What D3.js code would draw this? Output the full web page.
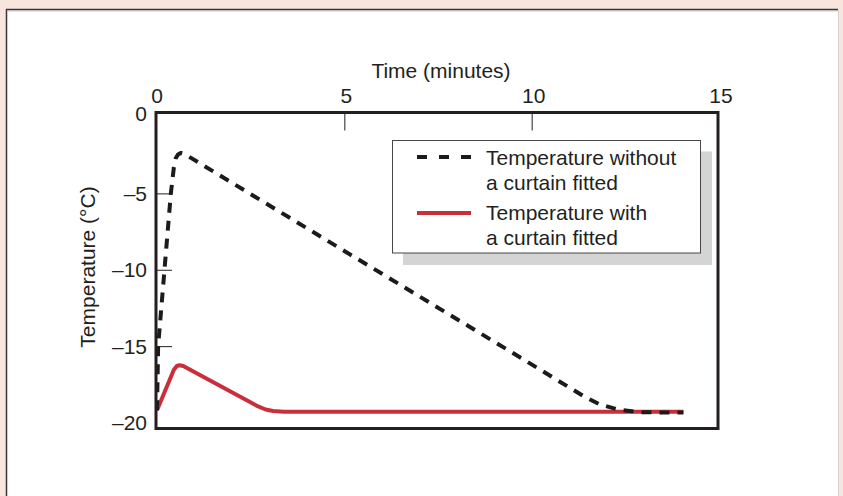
<!DOCTYPE html>
<html>
<head>
<meta charset="utf-8">
<script src="https://cdn.jsdelivr.net/npm/d3@7"></script>
<style>
  html, body { margin: 0; padding: 0; background: #f8e5de; }
  svg { display: block; }
  text { font-family: "Liberation Sans", Arial, sans-serif; fill: #231f20; }
</style>
</head>
<body>
<svg id="chart" width="843" height="496"></svg>
<script>
// ---- data ----
const xTicks = [0, 5, 10, 15];
const yTicks = [0, -5, -10, -15, -20];
const xTitle = "Time (minutes)";
const yTitle = "Temperature (°C)";
const seriesNames = ["Temperature without\na curtain fitted", "Temperature with\na curtain fitted"];

const withoutTime = [0, 0.03, 0.2, 0.37, 0.45, 0.5, 0.56, 0.64, 0.72, 5, 9.8, 11.4, 11.8, 12.3, 12.9, 14.05];
const withoutTemp = [-19.2, -15, -10, -5, -3.3, -2.7, -2.45, -2.35, -2.4, -8.77, -15.9, -18.3, -18.8, -19.15, -19.33, -19.35];

const withTime = [0, 0.45, 0.53, 0.6, 0.7, 2.7, 2.9, 3.1, 3.4, 14.05];
const withTemp = [-19.2, -16.55, -16.3, -16.25, -16.3, -18.95, -19.15, -19.25, -19.3, -19.3];

// ---- layout ----
const svg = d3.select("#chart");
const box = { left: 156, top: 112.5, right: 718, bottom: 428.5 };

// panel
svg.append("rect").attr("x", 6).attr("y", 9).attr("width", 832).attr("height", 500)
  .attr("fill", "#ffffff");
svg.append("line").attr("x1", 6.5).attr("x2", 6.5).attr("y1", 9).attr("y2", 496)
  .attr("stroke", "#3a3435").attr("stroke-width", 1.5);
svg.append("line").attr("x1", 6).attr("x2", 838).attr("y1", 9.5).attr("y2", 9.5)
  .attr("stroke", "#3a3435").attr("stroke-width", 1.5);
svg.append("line").attr("x1", 7).attr("x2", 838).attr("y1", 10.8).attr("y2", 10.8)
  .attr("stroke", "#b5b0b0").attr("stroke-width", 1);
svg.append("line").attr("x1", 838.5).attr("x2", 838.5).attr("y1", 10).attr("y2", 496)
  .attr("stroke", "#d8d0ce").attr("stroke-width", 1);

const x = d3.scaleLinear().domain([0, 15]).range([157, 719]);
const y = d3.scaleLinear().domain([-20, 0]).range([422.5, 117]);

// ticks (inside)
const xAxis = d3.axisBottom(x).tickValues(xTicks.slice(1, 3)).tickSize(18).tickFormat("");
svg.append("g").attr("transform", `translate(0,${box.top})`).call(xAxis)
  .call(g => g.select(".domain").remove())
  .call(g => g.selectAll("line").attr("stroke", "#231f20").attr("stroke-width", 1));
const yAxis = d3.axisRight(y).tickValues(yTicks.slice(1, 4)).tickSize(16).tickFormat("");
svg.append("g").attr("transform", `translate(${box.left},0)`).call(yAxis)
  .call(g => g.select(".domain").remove())
  .call(g => g.selectAll("line").attr("stroke", "#231f20").attr("stroke-width", 1));

// tick labels
svg.append("g").selectAll("text").data(xTicks).join("text")
  .attr("x", d => x(d) + (d === 0 ? 0 : 2))
  .attr("y", 103).attr("text-anchor", "middle").attr("font-size", 21)
  .text(d => d);
svg.append("g").selectAll("text").data(yTicks).join("text")
  .attr("x", 147).attr("y", d => (d === 0 ? y(d) - 4 : y(d)) + 7.5)
  .attr("text-anchor", "end").attr("font-size", 21)
  .text(d => d === 0 ? "0" : "\u2013" + Math.abs(d));

// titles
svg.append("text").attr("x", 441).attr("y", 78).attr("text-anchor", "middle")
  .attr("font-size", 21).text(xTitle);
svg.append("text").attr("transform", "translate(95,267) rotate(-90)")
  .attr("text-anchor", "middle").attr("font-size", 21).text(yTitle);

// series
const line = d3.line().x(d => x(d[0])).y(d => y(d[1])).curve(d3.curveLinear);
const withoutData = withoutTime.map((t, i) => [t, withoutTemp[i]]);
const withData = withTime.map((t, i) => [t, withTemp[i]]);

svg.append("path").datum(withData).attr("d", line)
  .attr("fill", "none").attr("stroke", "#c92f3b").attr("stroke-width", 4)
  .attr("stroke-linejoin", "round");
svg.append("path").datum(withoutData).attr("d", line)
  .attr("fill", "none").attr("stroke", "#1c1a1b").attr("stroke-width", 4)
  .attr("stroke-linejoin", "round")
  .attr("stroke-dasharray", "10,8");

// plot frame
svg.append("rect").attr("x", box.left).attr("y", box.top)
  .attr("width", box.right - box.left).attr("height", box.bottom - box.top)
  .attr("fill", "none").attr("stroke", "#231f20").attr("stroke-width", 3);

// legend
const lg = svg.append("g");
lg.append("rect").attr("x", 403).attr("y", 151.5).attr("width", 309).attr("height", 113.5)
  .attr("fill", "#d4d4d4");
lg.append("rect").attr("x", 392.5).attr("y", 140.5).attr("width", 308).attr("height", 112.5)
  .attr("fill", "#ffffff").attr("stroke", "#4a4546").attr("stroke-width", 1);
const legendRows = [
  { name: seriesNames[0], color: "#1c1a1b", dash: "10,12", ly: 157, ty: 165 },
  { name: seriesNames[1], color: "#c92f3b", dash: null, ly: 213, ty: 220 }
];
legendRows.forEach(r => {
  lg.append("line").attr("x1", 417).attr("x2", 471).attr("y1", r.ly).attr("y2", r.ly)
    .attr("stroke", r.color).attr("stroke-width", 4)
    .attr("stroke-dasharray", r.dash);
  r.name.split("\n").forEach((s, i) => {
    lg.append("text").attr("x", 486).attr("y", r.ty + i * 25).attr("font-size", 21).text(s);
  });
});
</script>
</body>
</html>
